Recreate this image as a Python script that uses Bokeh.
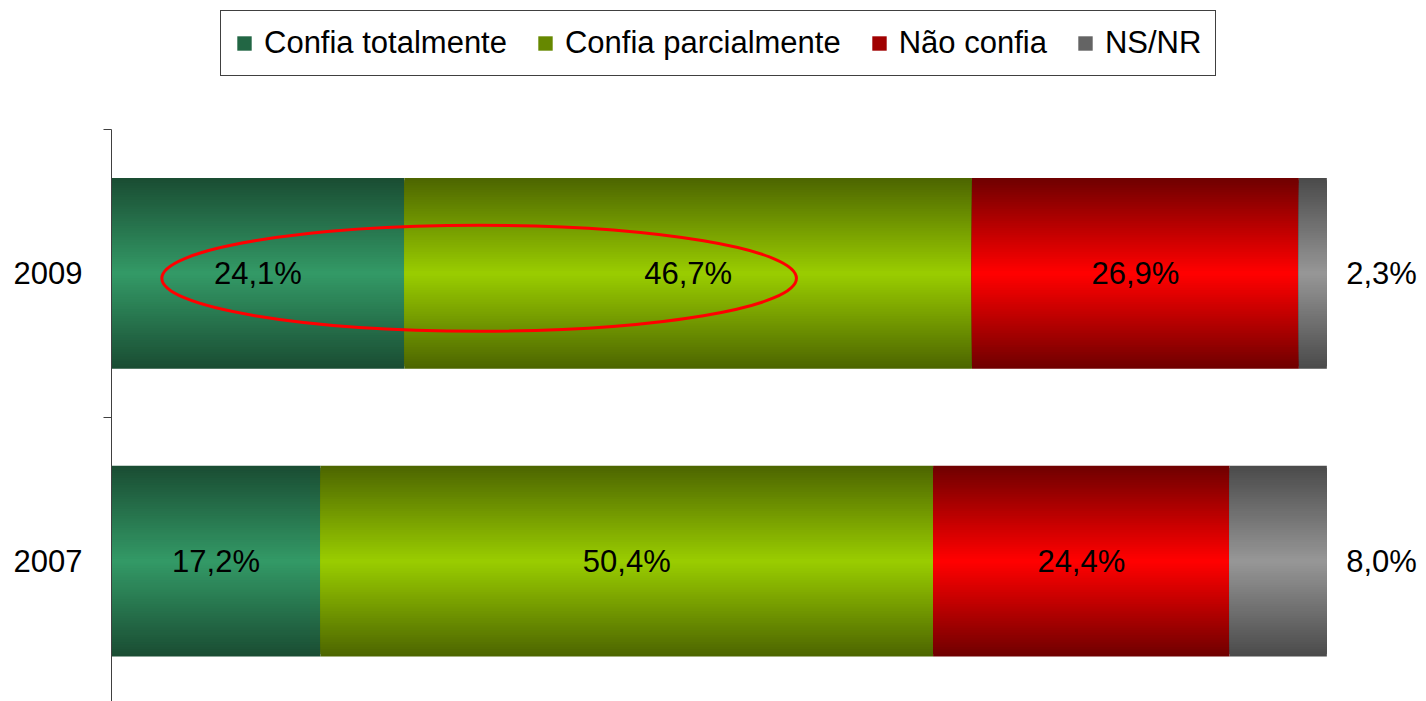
from bokeh.plotting import figure
from bokeh.layouts import column
from bokeh.models import ColumnDataSource, Range1d, FixedTicker, Legend, LegendItem
from bokeh.embed import file_html
from bokeh.resources import INLINE
from bokeh.core.properties import value

# ---- data ----
years = ["2009", "2007"]
year_pos = [2, 1]
series = ["Confia totalmente", "Confia parcialmente", "Não confia", "NS/NR"]
confia_totalmente = [24.1, 17.2]
confia_parcialmente = [46.7, 50.4]
nao_confia = [26.9, 24.4]
ns_nr = [2.3, 8.0]
values = [confia_totalmente, confia_parcialmente, nao_confia, ns_nr]

# ---- styles ----
center_colors = ["#339966", "#99CC00", "#FF0000", "#969696"]
edge_colors = ["#1A4D33", "#4D6600", "#700000", "#4B4B4B"]
FONT = "Liberation Sans"
FS = "31px"
BAR_H = 0.663
N = 40


def hex2rgb(h):
    h = h.lstrip("#")
    return [int(h[i:i + 2], 16) for i in (0, 2, 4)]


def mix(c1, c2, t):
    a, b = hex2rgb(c1), hex2rgb(c2)
    return "#%02x%02x%02x" % tuple(int(round(a[i] + (b[i] - a[i]) * t)) for i in range(3))


p = figure(width=1426, height=572, output_backend="svg", toolbar_location=None,
           x_range=Range1d(0, 108.2), y_range=Range1d(0.512, 2.5),
           x_axis_location=None, min_border_left=111, min_border_right=0,
           min_border_top=0, min_border_bottom=0)
p.outline_line_color = None
p.xgrid.visible = False
p.ygrid.visible = False

# legend strip above the chart
top = figure(width=1426, height=129, output_backend="svg", toolbar_location=None,
             x_range=Range1d(0, 1), y_range=Range1d(10, 11),
             x_axis_location=None, y_axis_location=None,
             min_border_left=0, min_border_right=0, min_border_top=0, min_border_bottom=0)
top.outline_line_color = None
top.xgrid.visible = False
top.ygrid.visible = False

cum = [0.0 for _ in years]
legend_renderers = []
label_x, label_y, label_t = [], [], []
for s, vals in enumerate(values):
    d = dict(y=[], left=[], right=[], height=[], color=[])
    for j, yp in enumerate(year_pos):
        l = cum[j]
        r = cum[j] + vals[j]
        for k in range(N):
            d["y"].append(yp)
            d["left"].append(l)
            d["right"].append(r)
            d["height"].append(BAR_H * (1 - k / N))
            d["color"].append(mix(edge_colors[s], center_colors[s], k / (N - 1)))
        txt = ("%.1f" % vals[j]).replace(".", ",") + "%"
        if s < 3:
            label_x.append((l + r) / 2)
        else:
            label_x.append(100 + 4.5)
        label_y.append(yp)
        label_t.append(txt)
        cum[j] = r
    src = ColumnDataSource(d)
    p.hbar(y="y", left="left", right="right", height="height", fill_color="color",
           line_color=None, source=src)
    lr = top.hbar(y="y", left="left", right="right", height="height", fill_color="color",
                  line_color=None, source=src)
    legend_renderers.append(lr)

p.text(x=label_x, y=label_y, text=label_t, text_font=value(FONT), text_font_size=FS,
       text_align="center", text_baseline="middle", text_color="black")

# highlight ellipse around the 2009 "confia" values
c1 = confia_totalmente[0] / 2
c2 = confia_totalmente[0] + confia_parcialmente[0] / 2
p.ellipse(x=(c1 + c2) / 2 + 0.5, y=year_pos[0] - 0.017, width=(c2 - c1) * 1.475, height=0.368,
          fill_color=None, line_color="#FF0000", line_width=3)

ax = p.yaxis[0]
ax.ticker = FixedTicker(ticks=year_pos, minor_ticks=[0.5, 1.5, 2.5])
ax.major_label_overrides = {year_pos[0]: years[0], year_pos[1]: years[1]}
ax.major_tick_out = 0
ax.major_tick_in = 0
ax.minor_tick_out = 8
ax.minor_tick_in = 0
ax.minor_tick_line_color = "#404040"
ax.axis_line_color = "#404040"
ax.major_label_text_font = FONT
ax.major_label_text_font_size = FS
ax.major_label_text_color = "black"
ax.major_label_standoff = 21

legend = Legend(items=[LegendItem(label=series[i], renderers=[legend_renderers[i]], index=N // 3)
                       for i in range(4)],
                orientation="horizontal", location=(109, 53),
                label_text_font=FONT, label_text_font_size=FS, label_text_color="black",
                glyph_width=18, glyph_height=18, label_standoff=11, spacing=29,
                padding=14, margin=0, border_line_color="#404040", border_line_width=1.2,
                border_line_alpha=1.0, background_fill_alpha=1.0)
top.add_layout(legend)

layout = column(top, p, spacing=0)
open("out.html", "w").write(file_html(layout, INLINE))
